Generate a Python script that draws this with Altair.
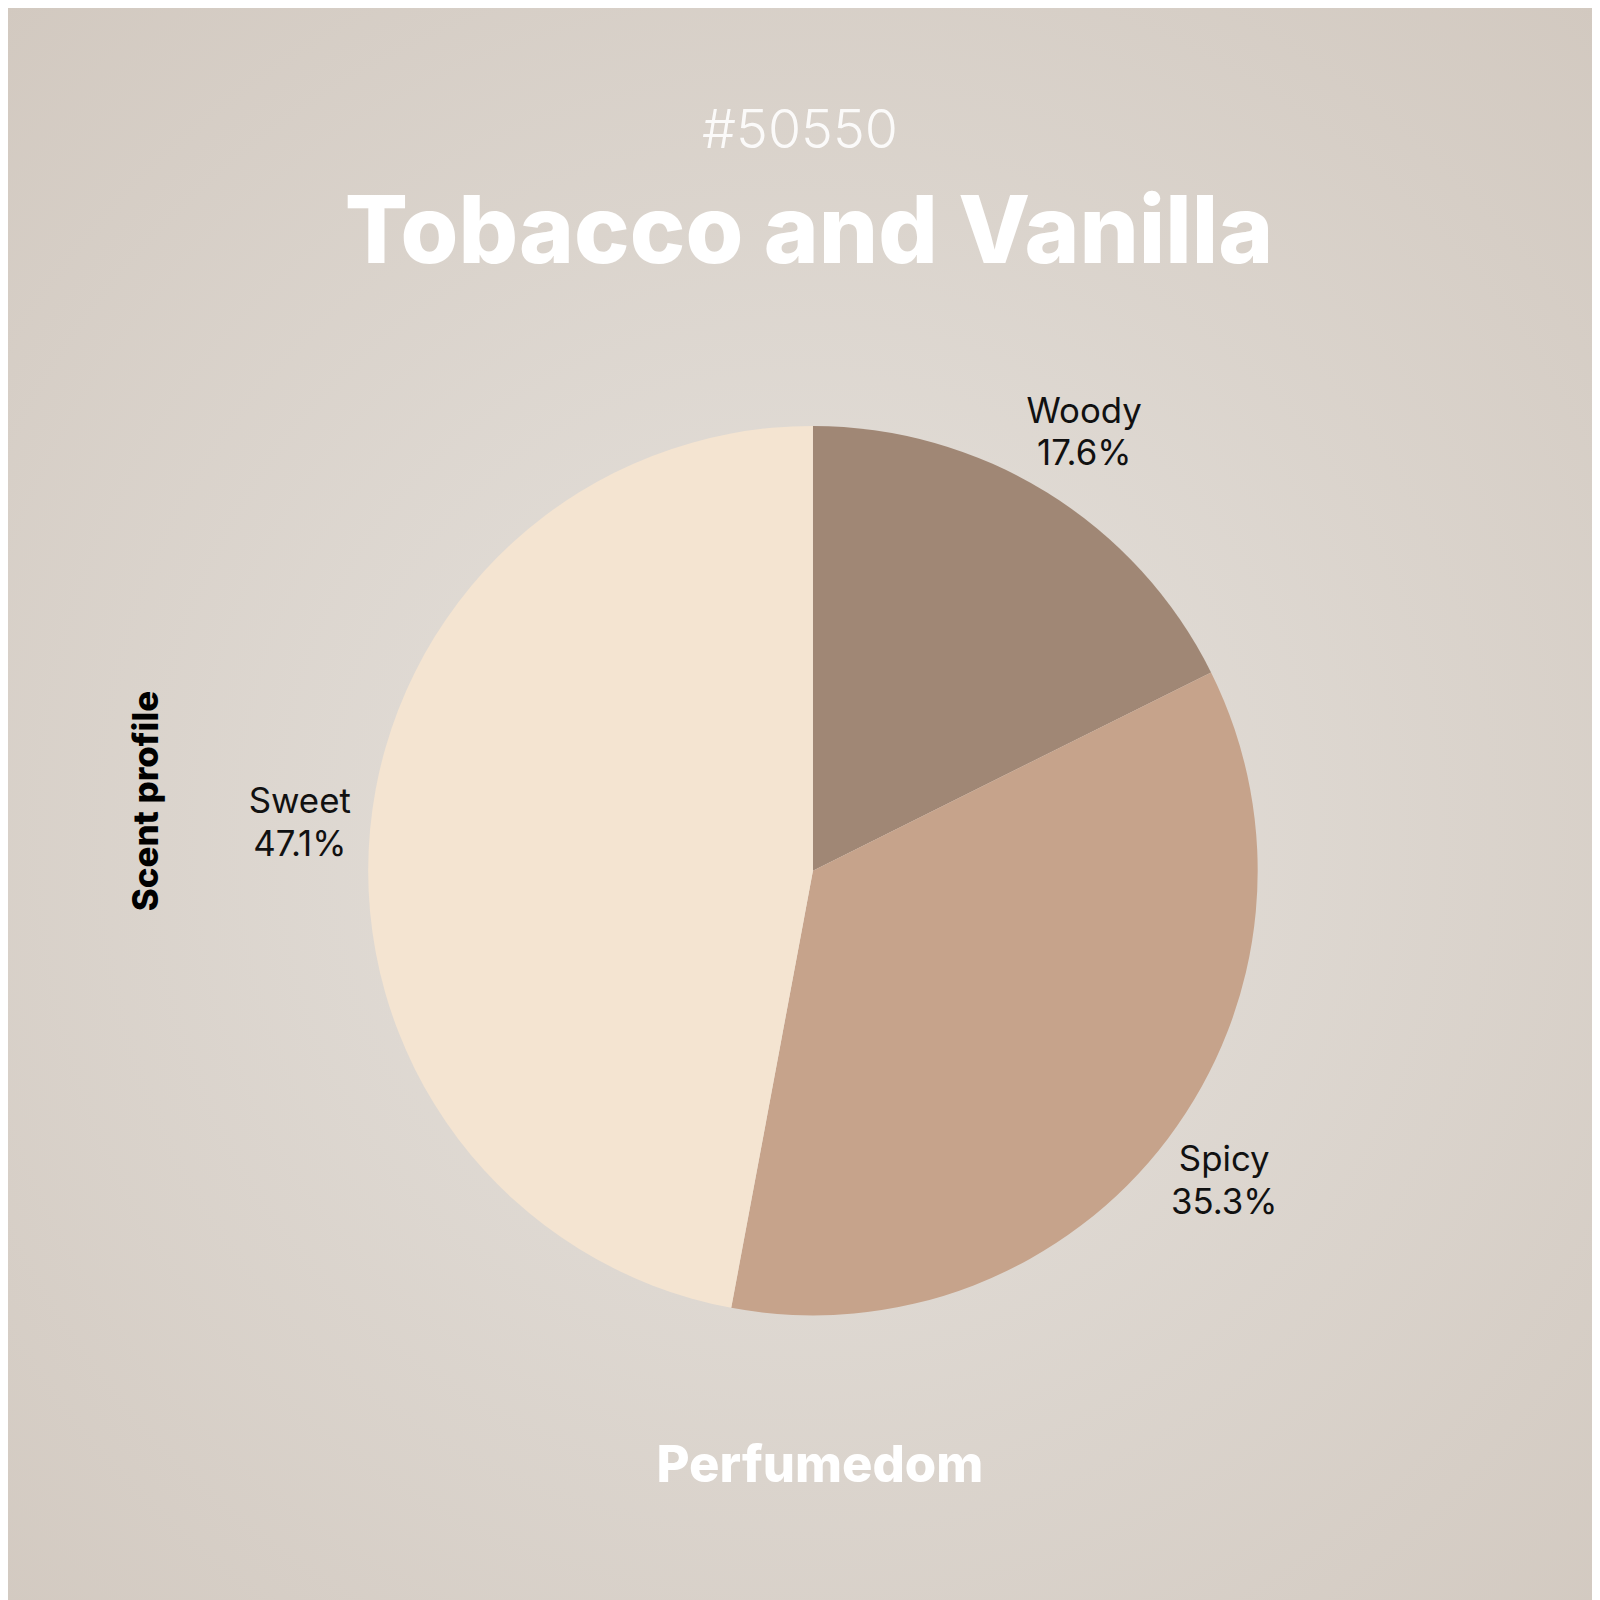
import altair as alt
import pandas as pd

categories = ["Woody", "Spicy", "Sweet"]
values = [3, 6, 8]
colors = ["#a08775", "#c6a38b", "#f4e4d1"]

total = sum(values)
pct = [f"{v / total * 100:.1f}%" for v in values]
df = pd.DataFrame({
    "cat": categories,
    "val": values,
    "idx": list(range(len(categories))),
    "label": [f"{c}\n{p}" for c, p in zip(categories, pct)],
})

W = 1592
H = 1592
CX, CY = 809, 863
FONT = "Inter"

bg = alt.Chart(alt.Data(values=[{}])).mark_rect(
    color={
        "gradient": "radial",
        "x1": 0.5, "y1": 0.52, "x2": 0.5, "y2": 0.52,
        "r1": 0, "r2": 0.72,
        "stops": [
            {"offset": 0, "color": "#e6e2dd"},
            {"offset": 1, "color": "#d2c9c0"},
        ],
    }
).encode(
    x=alt.value(-8), x2=alt.value(W + 8), y=alt.value(-8), y2=alt.value(H + 8)
)

color_scale = alt.Scale(domain=categories, range=colors)

pie = alt.Chart(df).mark_arc(outerRadius=447).encode(
    theta=alt.Theta("val:Q", stack=True),
    order=alt.Order("idx:Q"),
    color=alt.Color("cat:N", scale=color_scale, legend=None),
    x=alt.value(CX),
    y=alt.value(CY),
)

labels = alt.Chart(df).mark_text(
    radius=518, fontSize=35, font=FONT, color="#111111",
    lineBreak="\n", lineHeight=43, align="center", baseline="middle", dy=-21,
).encode(
    theta=alt.Theta("val:Q", stack=True),
    order=alt.Order("idx:Q"),
    text="label:N",
    x=alt.value(CX),
    y=alt.value(CY),
)

def txt(s, x, y, size, weight, color, angle=0, baseline="alphabetic", opacity=1):
    return alt.Chart(alt.Data(values=[{"t": s}])).mark_text(
        fontSize=size, fontWeight=weight, font=FONT, color=color, angle=angle,
        align="center", baseline=baseline, opacity=opacity,
    ).encode(text="t:N", x=alt.value(x), y=alt.value(y))

code = txt("#50550", 796, 137, 54, 300, "#ffffff", opacity=0.9)
title = txt("Tobacco and Vanilla", 805, 252, 94, 800, "#ffffff")
footer = txt("Perfumedom", 816, 1477, 51, 800, "#ffffff")
side = txt("Scent profile", 140, 793, 35, 800, "#000000", angle=270, baseline="middle")

chart = alt.layer(bg, pie, labels, code, title, footer, side).properties(
    width=W, height=H,
    autosize=alt.AutoSizeParams(type="none"),
    padding=0,
).configure_view(strokeWidth=0).configure(background="#d2c9c0")

chart.save("out.html", embed_options={"renderer": "svg", "actions": False})
